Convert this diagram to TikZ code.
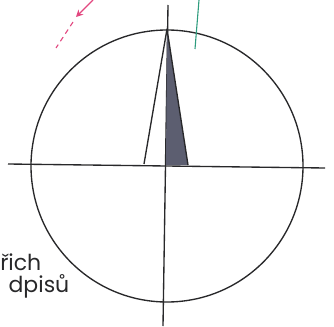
\documentclass[tikz,border=0pt]{standalone}
\usepackage{fontspec}
\setmainfont{Poppins}
\usetikzlibrary{arrows.meta}
\definecolor{inkgray}{RGB}{40, 40, 42}
\definecolor{wedgeblue}{RGB}{92, 94, 112}
\definecolor{markgreen}{RGB}{46, 156, 126}
\definecolor{markpink}{RGB}{226, 72, 128}

\begin{document}
\begin{tikzpicture}[x=1pt, y=-1pt, line width=1.35pt]
  \clip (0,0) rectangle (334,326);
  \useasboundingbox (0,0) rectangle (334,326);

  % axes and circle
  \coordinate (ctr) at (166,165);
  \coordinate (hl) at (8,164);
  \coordinate (hr) at (325,168);
  \coordinate (vt) at (168,5);
  \coordinate (vb) at (163,326);
  \draw[inkgray] (hl) -- (hr);
  \draw[inkgray] (vt) -- (vb);
  \draw[inkgray] (167,166) circle (136);

  % needle
  \coordinate (apex) at (167,29);
  \coordinate (bl) at (144,164);
  \coordinate (br) at (188,165);
  \fill[wedgeblue] (apex) -- (ctr) -- (br) -- cycle;
  \draw[inkgray, line join=round] (bl) -- (apex) -- (br);

  % marks
  \coordinate (ga) at (199,0);
  \coordinate (gb) at (195,49);
  \draw[markgreen, line width=1.1pt] (ga) -- (gb);

  \coordinate (pa) at (93,0);
  \coordinate (pb) at (76,17);
  \coordinate (pc) at (73,22);
  \coordinate (pd) at (56,48);
  \draw[markpink, line width=1.1pt, -{Stealth[length=7pt, width=7pt]}] (pa) -- (pb);
  \draw[markpink, line width=1.1pt, dash pattern=on 5pt off 4pt] (pc) -- (pd);

  % cut text
  \node[anchor=base east, font=\fontsize{22}{27}\selectfont, text=inkgray, inner sep=0pt] (tone) at (42,270) {řich};
  \node[anchor=base east, font=\fontsize{22}{27}\selectfont, text=inkgray, inner sep=0pt] (ttwo) at (70,292) {dpisů};
\end{tikzpicture}
\end{document}
